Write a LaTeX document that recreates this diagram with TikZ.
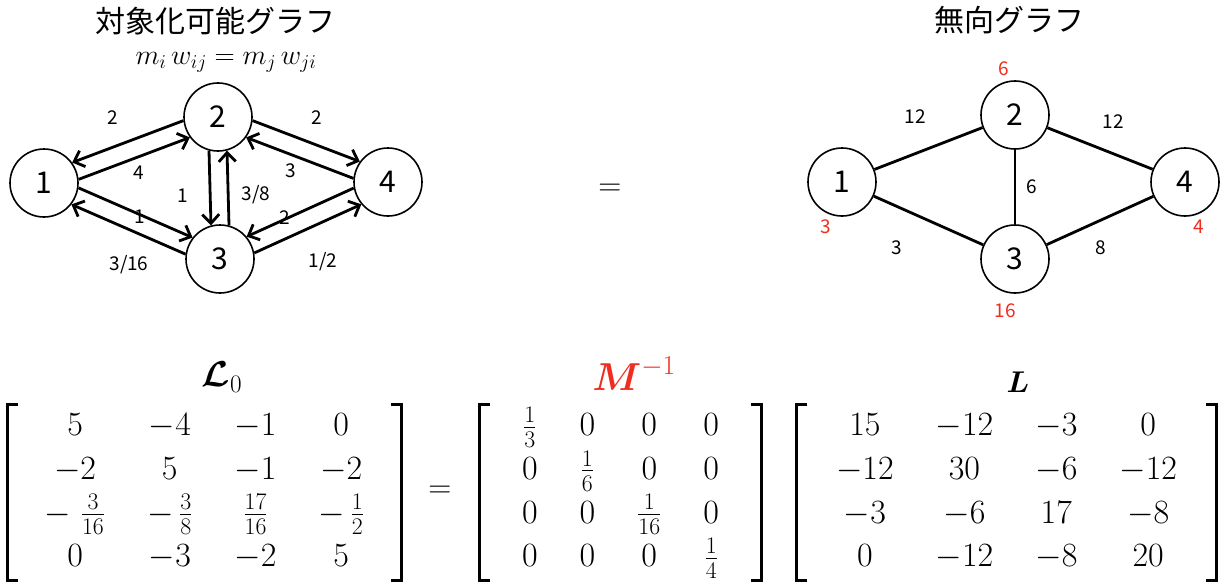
\RequirePackage{fix-cm}
\documentclass[tikz,border=0pt]{standalone}
\usepackage{amsmath}
\usepackage{fontspec}
\newfontfamily\jpfont{Noto Sans CJK JP}
\usetikzlibrary{arrows.meta}
\definecolor{massred}{RGB}{240,45,30}

\begin{document}
\begin{tikzpicture}[
    x=1pt, y=-1pt,
    vert/.style={
        draw,
        circle,
        line width=1.6pt,
        minimum size=68pt,
        inner sep=0pt,
        font=\jpfont\fontsize{30}{30}\selectfont
    },
    ttl/.style={font=\jpfont\fontsize{30}{30}\selectfont},
    wlbl/.style={font=\jpfont\fontsize{19}{19}\selectfont, inner sep=0pt},
    mlbl/.style={font=\jpfont\fontsize{19}{19}\selectfont, inner sep=0pt, text=massred},
    arr/.style={-{Straight Barb[length=9pt,width=17pt]}, line width=2.8pt},
    link/.style={line width=2.8pt},
    mat/.style={
        inner sep=0pt,
        minimum height=176pt,
        font=\fontsize{34}{37}\selectfont,
        execute at begin node={\setlength{\arraycolsep}{21pt}\renewcommand{\arraystretch}{1.18}}
    },
    brk/.style={line width=2.6pt},
    bigeq/.style={font=\fontsize{32}{37}\selectfont, inner sep=0pt}
]
\useasboundingbox (0,0) rectangle (1226,586);

% ---------------------------------------------------------------------------
% Symmetrizable graph (left)
% ---------------------------------------------------------------------------
\node[ttl] (ttlA) at (215,21) {対象化可能グラフ};
\node[font=\fontsize{28}{28}\selectfont] (cond) at (226,62) {$m_i\,w_{ij} = m_j\,w_{ji}$};

\node[vert] (a1) at (44,183) {1};
\node[vert] (a2) at (218,117) {2};
\node[vert] (a3) at (220,259) {3};
\node[vert] (a4) at (388,182) {4};

\draw[arr] (a2.186) -- (a1.36);
\draw[arr] (a1.6) -- (a2.216);
\draw[arr] (a1.352) -- (a3.142);
\draw[arr] (a3.172) -- (a1.322);
\draw[arr] (a2.255) -- (a3.105);
\draw[arr] (a3.75) -- (a2.285);
\draw[arr] (a2.354) -- (a4.144);
\draw[arr] (a4.174) -- (a2.324);
\draw[arr] (a4.190) -- (a3.40);
\draw[arr] (a3.10) -- (a4.220);

\node[wlbl] (w21) at (113,118) {2};
\node[wlbl] (w12) at (139,173) {4};
\node[wlbl] (w13) at (140,217) {1};
\node[wlbl] (w31) at (129,265) {3/16};
\node[wlbl] (w23) at (183,196) {1};
\node[wlbl] (w32) at (256,195) {3/8};
\node[wlbl] (w24) at (317,118) {2};
\node[wlbl] (w42) at (291,171) {3};
\node[wlbl] (w43) at (285,218) {2};
\node[wlbl] (w34) at (323,262) {1/2};

\node[bigeq] (eqtop) at (610,190) {$=$};

% ---------------------------------------------------------------------------
% Undirected graph (right)
% ---------------------------------------------------------------------------
\node[ttl] (ttlB) at (1009,20) {無向グラフ};

\node[vert] (b1) at (842,182) {1};
\node[vert] (b2) at (1015,115) {2};
\node[vert] (b3) at (1015,259) {3};
\node[vert] (b4) at (1185,182) {4};

\draw[link] (b1) -- (b2);
\draw[link] (b1) -- (b3);
\draw[link] (b2) -- (b3);
\draw[link] (b2) -- (b4);
\draw[link] (b3) -- (b4);

\node[wlbl] (u12) at (915,117) {12};
\node[wlbl] (u24) at (1113,122) {12};
\node[wlbl] (u23) at (1032,187) {6};
\node[wlbl] (u13) at (897,248) {3};
\node[wlbl] (u34) at (1101,248) {8};

\node[mlbl] (m1) at (826,227) {3};
\node[mlbl] (m2) at (1004,69) {6};
\node[mlbl] (m3) at (1005,311) {16};
\node[mlbl] (m4) at (1199,227) {4};

% ---------------------------------------------------------------------------
% Matrices
% ---------------------------------------------------------------------------
\node[mat, minimum width=394pt] (L0) at (204.5,492.5)
    {$\begin{array}{cccc}
        5 & -4 & -1 & 0\\
        -2 & 5 & -1 & -2\\
        -\;\frac{3}{16} & -\,\frac{3}{8} & \frac{17}{16} & -\,\frac{1}{2}\\
        0 & -3 & -2 & 5
    \end{array}$};

\node[mat, minimum width=282pt] (Minv) at (620.5,492.5)
    {$\begin{array}{cccc}
        \frac{1}{3} & 0 & 0 & 0\\
        0 & \frac{1}{6} & 0 & 0\\
        0 & 0 & \frac{1}{16} & 0\\
        0 & 0 & 0 & \frac{1}{4}
    \end{array}$};

\node[mat, minimum width=420pt] (Lmat) at (1006.5,492.5)
    {$\begin{array}{cccc}
        15 & -12 & -3 & 0\\
        -12 & 30 & -6 & -12\\
        -3 & -6 & 17 & -8\\
        0 & -12 & -8 & 20
    \end{array}$};

\foreach \m in {L0, Minv, Lmat} {
    \draw[brk] ([xshift=11pt]\m.north west) -- (\m.north west) -- (\m.south west) -- ([xshift=11pt]\m.south west);
    \draw[brk] ([xshift=-11pt]\m.north east) -- (\m.north east) -- (\m.south east) -- ([xshift=-11pt]\m.south east);
}

\node[bigeq] (eqbot) at (440,492) {$=$};

\node[font=\fontsize{36}{36}\selectfont] (L0lbl) at (222,377) {$\boldsymbol{\mathcal{L}}_0$};
\node[font=\fontsize{39}{39}\selectfont, text=massred] (Minvlbl) at (634,374) {$\boldsymbol{M}^{-1}$};
\node[font=\fontsize{30}{30}\selectfont] (Llbl) at (1018,382) {$\boldsymbol{L}$};

\end{tikzpicture}
\end{document}
